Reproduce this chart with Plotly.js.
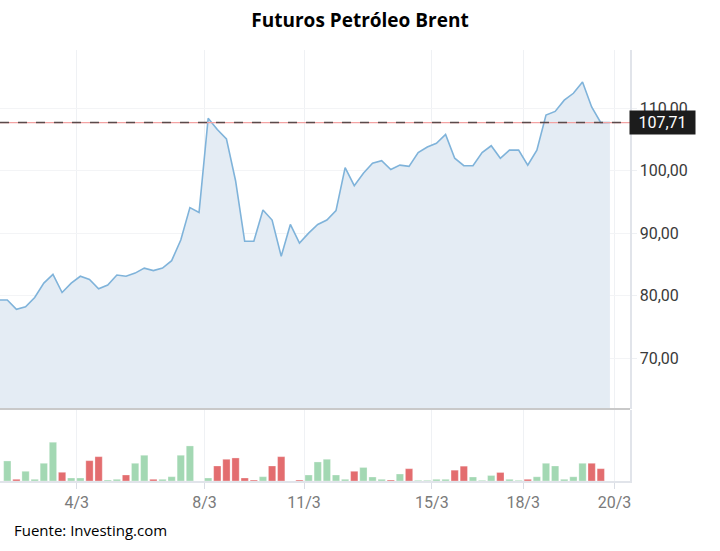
<!DOCTYPE html>
<html>
<head>
<meta charset="utf-8">
<script src="https://cdn.plot.ly/plotly-3.0.1.min.js"></script>
<style>
  html, body { margin: 0; padding: 0; background: #ffffff; }
  #chart { width: 720px; height: 551px; }
</style>
</head>
<body>
<div id="chart"></div>
<script>
// ---- data ----
const chartTitle = "Futuros Petróleo Brent";
const sourceText = "Fuente: Investing.com";

// one entry per trading period (index 0 is the partly hidden first period)
const prices = [
  79.3, 79.3, 77.8, 78.2, 79.7, 82.0, 83.4, 80.5, 82.0, 83.1,
  82.6, 81.1, 81.7, 83.3, 83.1, 83.6, 84.4, 84.0, 84.4, 85.6,
  88.9, 94.1, 93.3, 108.4, 106.6, 105.1, 98.4, 88.7, 88.7, 93.7,
  92.1, 86.3, 91.4, 88.4, 90.0, 91.4, 92.1, 93.6, 100.5, 97.6,
  99.6, 101.2, 101.6, 100.2, 100.9, 100.7, 102.9, 103.8, 104.4, 105.8,
  102.0, 100.8, 100.8, 102.9, 104.0, 102.0, 103.3, 103.3, 100.9, 103.3,
  108.9, 109.5, 111.3, 112.4, 114.2, 110.2, 107.7, 107.71
];

const volumes = [
  null, 20.0, 1.7, 9.7, 1.7, 17.7, 38.7, 8.7, 3.0, 3.0,
  20.3, 24.3, 1.0, 1.7, 6.0, 17.7, 25.7, 1.7, 1.7, 4.3,
  25.7, 35.0, null, 3.0, 15.0, 21.7, 23.0, 3.0, 1.0, 4.3,
  15.0, 24.3, null, 1.0, 6.0, 19.0, 21.7, 6.0, 1.7, 9.7,
  13.5, 4.0, 1.7, 1.0, 7.0, 12.3, 0.7, 0.7, 1.7, 1.7,
  10.8, 14.8, 4.0, 0.7, 5.5, 8.5, 1.7, 0.7, 1.7, 4.2,
  17.7, 15.0, 1.7, 4.2, 17.7, 17.7, 12.3, null
];

// "u" = up period (green), "d" = down period (red)
const volumeDirection = [
  "u","u","d","u","u","u","u","d","u","u",
  "d","d","u","u","d","u","u","d","u","u",
  "u","u","u","u","d","d","d","d","d","u",
  "d","d","u","d","u","u","u","u","u","d",
  "u","u","u","d","u","d","u","u","u","u",
  "d","d","u","u","u","d","u","u","d","u",
  "u","u","u","u","u","d","d","u"
];

const lastPrice = 107.71;

const tickPositions = [8.6, 22.6, 33.5, 47.5, 57.5, 67.5];
const tickLabels = ["4/3", "8/3", "11/3", "15/3", "18/3", "20/3"];
const priceTicks = [70, 80, 90, 100, 110];

// ---- build ----
const idx = prices.map((_, i) => i);
const upColor = "#a3d8b3";
const downColor = "#e36d6f";
const barColors = volumeDirection.map(d => d === "u" ? upColor : downColor);

const priceTrace = {
  type: "scatter",
  mode: "lines",
  x: idx,
  y: prices,
  xaxis: "x",
  yaxis: "y",
  fill: "tozeroy",
  fillcolor: "#e4ecf4",
  line: { color: "#7fb3da", width: 1.6 },
  hoverinfo: "skip"
};

const volumeTrace = {
  type: "bar",
  x: idx,
  y: volumes,
  xaxis: "x",
  yaxis: "y2",
  marker: { color: barColors, line: { width: 0.6, color: "rgba(255,255,255,0.5)" } },
  width: 0.8,
  hoverinfo: "skip"
};

const fmt = v => v.toFixed(2).replace(".", ",");

const layout = {
  width: 720,
  height: 551,
  margin: { l: 0, r: 90, t: 50, b: 70 },
  paper_bgcolor: "#ffffff",
  plot_bgcolor: "#ffffff",
  separators: ",.",
  showlegend: false,
  bargap: 0.2,
  title: {
    text: "<b>" + chartTitle + "</b>",
    x: 0.5,
    xanchor: "center",
    y: 0.963,
    yanchor: "middle",
    font: { family: "Open Sans, sans-serif", size: 19, color: "#000000" }
  },
  font: { family: "Roboto, sans-serif" },
  xaxis: {
    range: [0.2, 69.2],
    anchor: "y2",
    tickmode: "array",
    tickvals: tickPositions,
    ticktext: tickLabels,
    ticks: "outside",
    ticklen: 6,
    tickcolor: "#d9dde4",
    showgrid: true,
    gridcolor: "#eff1f4",
    gridwidth: 1,
    showline: true,
    linecolor: "#e1e4ea",
    linewidth: 1.5,
    zeroline: false,
    tickfont: { family: "Roboto, sans-serif", size: 16, color: "#7a7a7a" }
  },
  yaxis: {
    domain: [0.167, 1],
    range: [61.84, 119.33],
    side: "right",
    tickmode: "array",
    tickvals: priceTicks,
    tickformat: ".2f",
    ticks: "outside",
    ticklen: 5,
    tickcolor: "#eef0f3",
    showgrid: true,
    gridcolor: "#f3f4f6",
    showline: true,
    linecolor: "#e1e4ea",
    linewidth: 1.5,
    zeroline: false,
    tickfont: { family: "Roboto, sans-serif", size: 16, color: "#3a3a3a" }
  },
  yaxis2: {
    domain: [0, 0.165],
    range: [0, 71],
    side: "right",
    showticklabels: false,
    ticks: "",
    showgrid: false,
    showline: true,
    linecolor: "#e1e4ea",
    linewidth: 1.5,
    zeroline: false
  },
  shapes: [
    { type: "line", xref: "paper", x0: 0, x1: 1, yref: "y domain", y0: 0, y1: 0,
      line: { color: "#c9c9c9", width: 2 } },
    { type: "line", xref: "paper", x0: 0, x1: 1, yref: "y", y0: lastPrice, y1: lastPrice,
      line: { color: "#f3a3a3", width: 1.2 } },
    { type: "line", xref: "paper", x0: 0, x1: 1, yref: "y", y0: lastPrice, y1: lastPrice,
      line: { color: "#5a4a4a", width: 1.4, dash: "dash" } }
  ],
  annotations: [
    {
      xref: "paper", x: 1, xanchor: "left", xshift: -1,
      yref: "y", y: lastPrice, yanchor: "middle",
      text: fmt(lastPrice),
      showarrow: false,
      bgcolor: "#1c1c1c",
      width: 61, height: 19, borderpad: 2, align: "center",
      font: { family: "Roboto, sans-serif", size: 16, color: "#ffffff" }
    },
    {
      xref: "paper", yref: "paper", x: 0, y: 0, xanchor: "left", yanchor: "middle",
      xshift: 12, yshift: -49,
      text: sourceText,
      showarrow: false,
      font: { family: "Open Sans, sans-serif", size: 15, color: "#000000" }
    }
  ]
};

Plotly.newPlot("chart", [priceTrace, volumeTrace], layout, { displayModeBar: false, staticPlot: true });
</script>
</body>
</html>
